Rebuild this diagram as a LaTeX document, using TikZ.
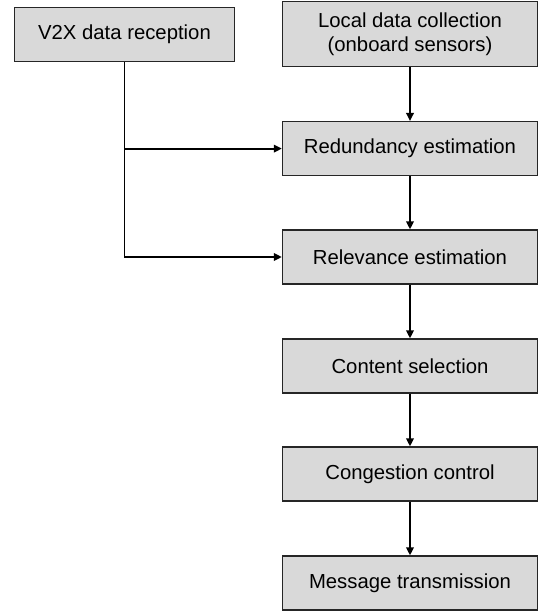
\documentclass[tikz,border=0pt]{standalone}
\usepackage{fontspec}
\setmainfont{Liberation Sans}
\usetikzlibrary{arrows.meta}
\begin{document}
\begin{tikzpicture}[x=1pt,y=1pt,
  box/.style={draw=black!85, line width=1.3pt, fill=black!15, minimum width=255pt, minimum height=54pt, inner sep=0pt, align=center, font=\fontsize{20.3}{24.5}\selectfont},
  conn/.style={line width=1.9pt, -{Triangle[length=8pt,width=7.5pt]}}]
\useasboundingbox (0,0) rectangle (545,-614);
\node[box, minimum width=220pt, minimum height=54pt] (v2x) at (124.5,-34.5) {V2X data reception};
\node[box, minimum height=65pt] (loc) at (410,-34.2) {Local data collection\\(onboard sensors)};
\node[box] (red) at (410,-148.6) {Redundancy estimation};
\node[box] (rel) at (410,-257) {Relevance estimation};
\node[box] (con) at (410,-366) {Content selection};
\node[box] (cng) at (410,-474) {Congestion control};
\node[box] (msg) at (410,-583) {Message transmission};
\draw[conn] (loc) -- (red);
\draw[conn] (red) -- (rel);
\draw[conn] (rel) -- (con);
\draw[conn] (con) -- (cng);
\draw[conn] (cng) -- (msg);
\draw[conn] (v2x.south) |- (rel.west);
\draw[conn] (v2x.south |- red.west) -- (red.west);
\end{tikzpicture}
\end{document}
